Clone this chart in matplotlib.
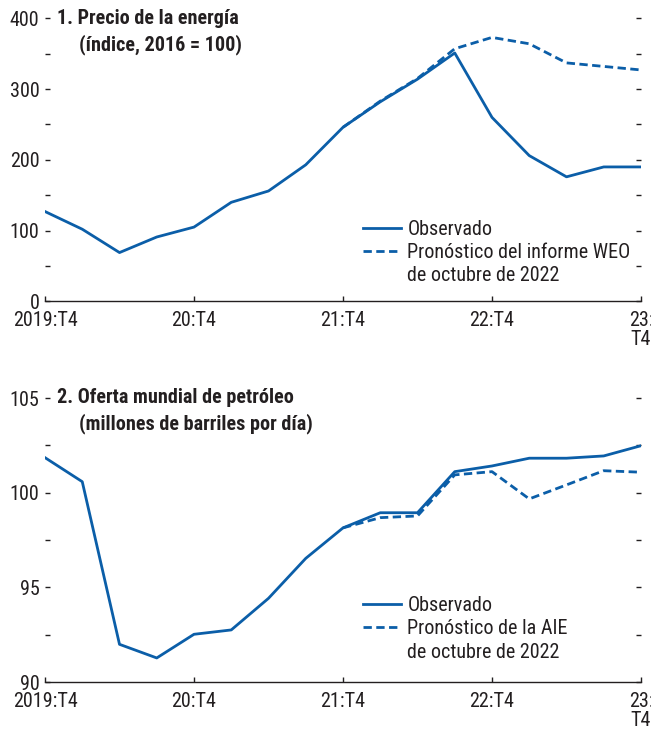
import numpy as np
import matplotlib
matplotlib.use('Agg')
import matplotlib.pyplot as plt
from matplotlib.lines import Line2D
from matplotlib.ticker import MultipleLocator

plt.rcParams['font.family'] = ['Roboto Condensed', 'Archivo Narrow', 'PT Sans Narrow',
                               'Liberation Sans', 'DejaVu Sans']

# trimestres 2019:T4 .. 2023:T4
quarters = np.arange(17)
tick_pos = [0, 4, 8, 12, 16]
tick_labels = ['2019:T4', '20:T4', '21:T4', '22:T4', '23:\nT4']

# 1. Precio de la energía
energy_obs = [127, 102, 69, 91, 105, 140, 156, 193, 246, 282, 314, 351, 260, 206, 176, 190, 190]
energy_fc_x = np.arange(8, 17)
energy_fc = [246, 283, 315, 357, 373, 364, 337, 332, 327]

# 2. Oferta mundial de petróleo
oil_obs = [101.85, 100.58, 91.99, 91.27, 92.52, 92.75, 94.42, 96.53, 98.14,
           98.94, 98.94, 101.11, 101.41, 101.82, 101.82, 101.94, 102.48]
oil_fc_x = np.arange(8, 17)
oil_fc = [98.14, 98.68, 98.77, 100.94, 101.11, 99.67, 100.41, 101.16, 101.08]

blue = '#0b5ea8'
dark = '#231f20'
fs = 14.5

fig = plt.figure(figsize=(6.51, 7.34), dpi=100)
ax1 = fig.add_axes([45 / 651, 1 - 301.4 / 734, 596 / 651, 283.1 / 734])
ax2 = fig.add_axes([45 / 651, 1 - 682 / 734, 596 / 651, 284 / 734])


def style(ax, ylim, major, minor):
    ax.set_xlim(0, 16)
    ax.set_ylim(*ylim)
    ax.yaxis.set_major_locator(MultipleLocator(major))
    ax.yaxis.set_minor_locator(MultipleLocator(minor))
    ax.set_xticks(tick_pos)
    ax.set_xticklabels(tick_labels, fontsize=fs, color=dark, linespacing=1.0)
    for s in ['left', 'top', 'right']:
        ax.spines[s].set_visible(False)
    ax.spines['bottom'].set_color(dark)
    ax.spines['bottom'].set_linewidth(1.0)
    ax.tick_params(axis='y', which='both', direction='in', left=True, right=True,
                   length=3.8, width=1.0, color=dark, labelsize=fs, labelcolor=dark, pad=4)
    ax.tick_params(axis='x', direction='in', length=3.8, width=1.0, color=dark, pad=7)
    ax.tick_params(axis='x', which='minor', bottom=False)


def legend(ax, y0):
    h, l = ax.get_legend_handles_labels()
    h.append(Line2D([], [], color='none'))
    l.append('de octubre de 2022')
    ax.legend(h, l, loc='lower left', bbox_to_anchor=(0.527, y0), frameon=False,
              fontsize=fs, handlelength=1.9, handletextpad=0.3, labelspacing=0.22,
              borderpad=0.2, borderaxespad=0.0, labelcolor=dark)


# panel 1
ax1.plot(quarters, energy_obs, color=blue, lw=2.0, label='Observado', zorder=3)
ax1.plot(energy_fc_x, energy_fc, color=blue, lw=2.0, ls=(0, (3.0, 1.6)), zorder=2,
         label='Pronóstico del informe WEO')
style(ax1, (0, 400), 100, 50)
ax1.text(0.020, 1.0, '1. Precio de la energía', transform=ax1.transAxes,
         fontsize=fs, fontweight='bold', va='center', ha='left', color=dark)
ax1.text(0.057, 0.908, '(índice, 2016 = 100)', transform=ax1.transAxes,
         fontsize=fs, fontweight='bold', va='center', ha='left', color=dark)
legend(ax1, 0.042)

# panel 2
ax2.plot(quarters, oil_obs, color=blue, lw=2.0, label='Observado', zorder=3)
ax2.plot(oil_fc_x, oil_fc, color=blue, lw=2.0, ls=(0, (3.0, 1.6)), zorder=2,
         label='Pronóstico de la AIE')
style(ax2, (90, 105), 5, 2.5)
ax2.text(0.020, 1.0, '2. Oferta mundial de petróleo', transform=ax2.transAxes,
         fontsize=fs, fontweight='bold', va='center', ha='left', color=dark)
ax2.text(0.057, 0.908, '(millones de barriles por día)', transform=ax2.transAxes,
         fontsize=fs, fontweight='bold', va='center', ha='left', color=dark)
legend(ax2, 0.057)

fig.savefig('out.png', dpi=100)
